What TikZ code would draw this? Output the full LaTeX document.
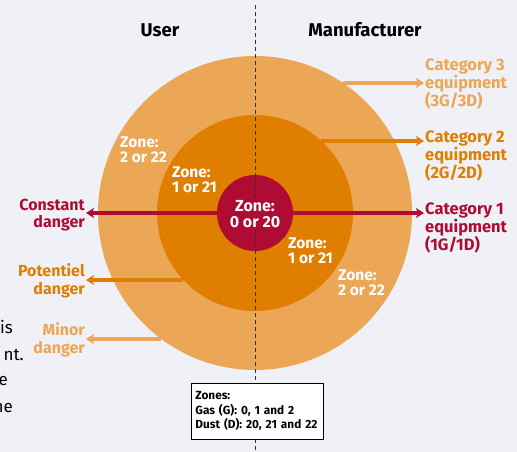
\documentclass[tikz,border=0pt]{standalone}
\usepackage{fontspec}
\setmainfont{Fira Sans}
\usetikzlibrary{arrows.meta}
\definecolor{bgc}{HTML}{F0F1F7}
\definecolor{outerc}{HTML}{EBA656}
\definecolor{midc}{HTML}{E07E00}
\definecolor{innerc}{HTML}{B00B32}
\begin{document}
\begin{tikzpicture}[x=1pt,y=-1pt,
  disc/.style={circle,inner sep=0pt,draw=none},
  arr/.style={line width=3.5pt,-{Stealth[length=8pt,width=10pt,inset=2pt]}},
  head/.style={font=\bfseries\fontsize{18.5}{20}\selectfont},
  catlab/.style={anchor=west,align=left,inner sep=1pt,font=\bfseries\fontsize{16.5}{18}\selectfont},
  dangerlab/.style={anchor=east,align=right,inner sep=1pt,font=\bfseries\fontsize{16}{17.5}\selectfont},
  zonelab/.style={anchor=west,align=left,inner sep=0pt,text=white,font=\bfseries\fontsize{15.5}{14.5}\selectfont},
  bodytxt/.style={anchor=base east,inner sep=0pt,font=\fontsize{17}{25}\selectfont}]
\useasboundingbox (0,0) rectangle (517,452);
\fill[bgc] (0,0) rectangle (517,452);
% circles
\node[disc,fill=outerc,minimum size=314pt] (outer) at (255,213) {};
\node[disc,fill=midc,minimum size=196pt] (mid) at (255,213) {};
\node[disc,fill=innerc,minimum size=76pt] (inner) at (255,213) {};
% arrow start points on the circle borders
\coordinate (c3s) at (343,83);
\coordinate (c2s) at (321,141);
\coordinate (pds) at (183,280);
\coordinate (mds) at (161,339);
% dashed divider
\coordinate (dtop) at (255,5);
\coordinate (dbot) at (255,452);
\draw[dash pattern=on 4pt off 3pt,line width=0.9pt,black!80] (dtop) -- (dbot);
% headings
\node[head] (user) at (160,30) {User};
\node[head] (manu) at (365,30) {Manufacturer};
% right labels
\node[catlab,text=outerc] (cat3) at (424,84) {Category 3\\equipment\\(3G/3D)};
\node[catlab,text=midc] (cat2) at (424,156) {Category 2\\equipment\\(2G/2D)};
\node[catlab,text=innerc] (cat1) at (424,228) {Category 1\\equipment\\(1G/1D)};
% left labels
\node[dangerlab,text=innerc] (const) at (86,215) {Constant\\danger};
\node[dangerlab,text=midc] (pot) at (86,281) {Potentiel\\danger};
\node[dangerlab,text=outerc] (minor) at (86,340) {Minor\\danger};
% arrows
\draw[arr,outerc] (c3s) -- (c3s -| cat3.west);
\draw[arr,midc] (c2s) -- (c2s -| cat2.west);
\draw[arr,innerc] (inner.east) -- (inner.east -| cat1.west);
\draw[arr,innerc] (inner.west) -- (inner.west -| const.east);
\draw[arr,midc] (pds) -- (pds -| pot.east);
\draw[arr,outerc] (mds) -- (mds -| minor.east);
% zone labels
\node[fill=innerc,inner sep=1pt,align=center,text=white,font=\bfseries\fontsize{16}{16}\selectfont] (z0) at (255,214) {Zone:\\0 or 20};
\node[zonelab] (z2a) at (120,150) {Zone:\\2 or 22};
\node[zonelab] (z1a) at (172,180) {Zone:\\1 or 21};
\node[zonelab] (z1b) at (288,251) {Zone:\\1 or 21};
\node[zonelab] (z2b) at (338,283) {Zone:\\2 or 22};
% legend box
\node[draw=black,line width=0.8pt,fill=white,anchor=north west,minimum width=132pt,minimum height=56pt,
  text width=124pt,align=left,inner sep=4pt,font=\bfseries\fontsize{11.8}{14.5}\selectfont] (zones) at (191,383)
  {Zones:\\Gas (G): 0, 1 and 2\\Dust (D): 20, 21 and 22};
% cut-off body text at the left edge
\node[bodytxt] (t1) at (13,333) {is};
\node[bodytxt] (t2) at (24,360) {nt.};
\node[bodytxt] (t3) at (8,385) {e};
\node[bodytxt] (t4) at (13,412) {ne};
\end{tikzpicture}
\end{document}
